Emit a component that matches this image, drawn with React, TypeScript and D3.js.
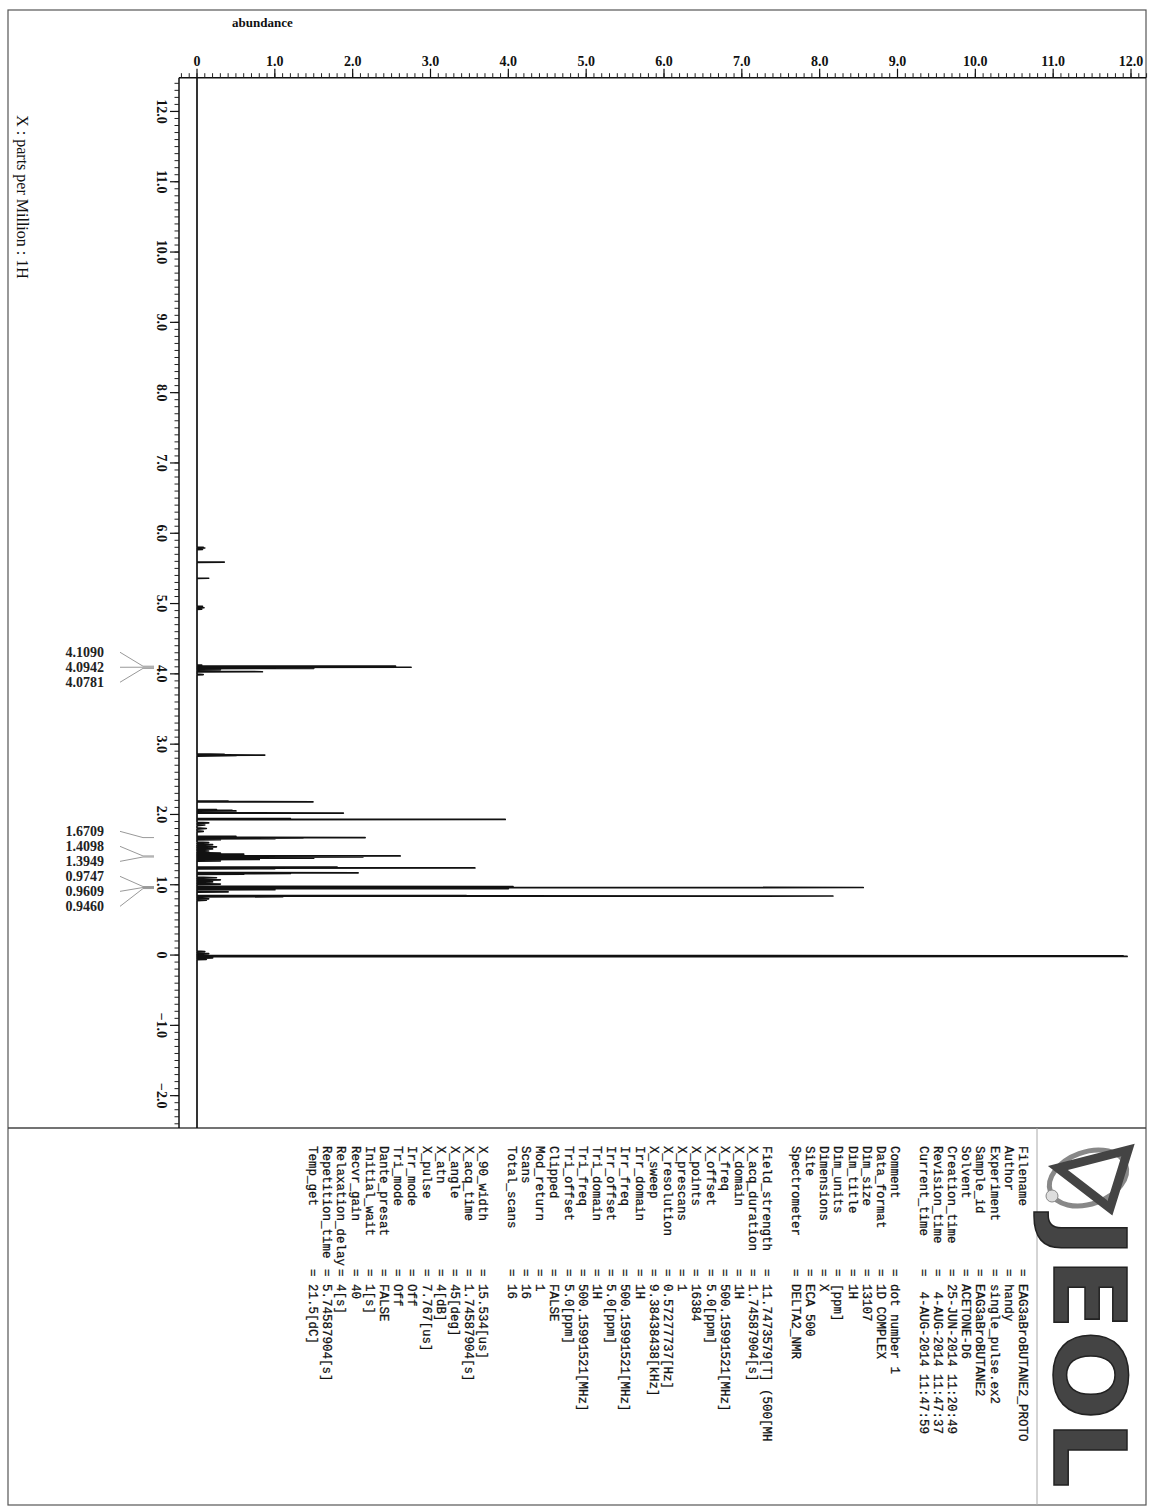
import React from 'react';
import * as d3 from 'd3';

// ---- axis ticks ----
const abundanceTicks = [0, 1, 2, 3, 4, 5, 6, 7, 8, 9, 10, 11, 12];
const abundanceTickLabels = ['0', '1.0', '2.0', '3.0', '4.0', '5.0', '6.0', '7.0', '8.0', '9.0', '10.0', '11.0', '12.0'];
const ppmTicks = [12, 11, 10, 9, 8, 7, 6, 5, 4, 3, 2, 1, 0, -1, -2];
const ppmTickLabels = ['12.0', '11.0', '10.0', '9.0', '8.0', '7.0', '6.0', '5.0', '4.0', '3.0', '2.0', '1.0', '0', '\u22121.0', '\u22122.0'];

// ---- spectrum peaks (ppm, abundance, half width ppm) ----
const peakPpm = [
  5.80, 5.79, 5.77, 5.59, 5.36, 4.96, 4.94, 4.92,
  4.125, 4.109, 4.094, 4.078, 4.06, 4.05, 4.03, 3.99,
  2.855, 2.845, 2.835,
  2.19, 2.18, 2.07, 2.06, 2.05, 2.04, 2.02, 1.94, 1.93,
  1.88, 1.85, 1.80, 1.76,
  1.69, 1.6709, 1.665, 1.655, 1.64,
  1.60, 1.57, 1.54, 1.51, 1.48, 1.45,
  1.435, 1.4098, 1.3949, 1.38, 1.36, 1.34,
  1.25, 1.24, 1.23, 1.17, 1.16, 1.15,
  1.10, 1.07, 1.04, 1.01,
  0.9747, 0.9609, 0.946, 0.93, 0.90,
  0.845, 0.84, 0.83, 0.80, 0.78,
  0.05, 0.02, -0.01, -0.02, -0.04, -0.06,
];
const peakHeight = [
  0.08, 0.10, 0.07, 0.35, 0.15, 0.07, 0.09, 0.06,
  0.06, 2.55, 2.75, 1.5, 0.3, 0.1, 0.84, 0.08,
  0.35, 0.87, 0.5,
  0.4, 1.49, 0.25, 0.45, 0.5, 0.3, 1.88, 1.2, 3.96,
  0.15, 0.1, 0.12, 0.08,
  0.5, 2.16, 1.36, 1.0, 0.3,
  0.15, 0.2, 0.25, 0.2, 0.15, 0.3,
  0.6, 2.61, 2.13, 1.5, 0.8, 0.3,
  1.8, 3.57, 1.0, 2.07, 1.2, 0.6,
  0.25, 0.3, 0.2, 0.3,
  4.06, 8.56, 4.0, 1.0, 0.4,
  3.46, 8.17, 1.1, 0.15, 0.12,
  0.1, 0.15, 11.9, 11.95, 0.2, 0.12,
];
const peakWidth = [
  0.004, 0.004, 0.004, 0.003, 0.003, 0.004, 0.004, 0.004,
  0.004, 0.003, 0.003, 0.003, 0.004, 0.006, 0.003, 0.006,
  0.006, 0.006, 0.006,
  0.003, 0.003, 0.003, 0.003, 0.003, 0.003, 0.003, 0.003, 0.003,
  0.008, 0.008, 0.008, 0.008,
  0.003, 0.003, 0.003, 0.003, 0.003,
  0.008, 0.008, 0.008, 0.008, 0.008, 0.006,
  0.003, 0.003, 0.003, 0.003, 0.003, 0.003,
  0.003, 0.003, 0.003, 0.003, 0.003, 0.003,
  0.008, 0.008, 0.008, 0.006,
  0.003, 0.003, 0.003, 0.003, 0.004,
  0.003, 0.003, 0.003, 0.006, 0.006,
  0.006, 0.006, 0.003, 0.003, 0.006, 0.006,
];

// ---- peak annotations ----
const labelGroupA = [4.109, 4.0942, 4.0781];
const labelGroupB = [1.6709, 1.4098, 1.3949, 0.9747, 0.9609, 0.946];

// ---- parameter block ----
const paramLabels = [
  'Filename', 'Author', 'Experiment', 'Sample_id', 'Solvent', 'Creation_time', 'Revision_time', 'Current_time', '',
  'Comment', 'Data_format', 'Dim_size', 'Dim_title', 'Dim_units', 'Dimensions', 'Site', 'Spectrometer', '',
  'Field_strength', 'X_acq_duration', 'X_domain', 'X_freq', 'X_offset', 'X_points', 'X_prescans', 'X_resolution', 'X_sweep',
  'Irr_domain', 'Irr_freq', 'Irr_offset', 'Tri_domain', 'Tri_freq', 'Tri_offset', 'Clipped', 'Mod_return', 'Scans', 'Total_scans', '',
  'X_90_width', 'X_acq_time', 'X_angle', 'X_atn', 'X_pulse', 'Irr_mode', 'Tri_mode', 'Dante_presat', 'Initial_wait', 'Recvr_gain',
  'Relaxation_delay', 'Repetition_time', 'Temp_get',
];
const paramValues = [
  'EAG3aBroBUTANE2_PROTO', 'handy', 'single_pulse.ex2', 'EAG3aBroBUTANE2', 'ACETONE-D6', '25-JUN-2014 11:20:49', ' 4-AUG-2014 11:47:37', ' 4-AUG-2014 11:47:59', '',
  'dot number 1', '1D COMPLEX', '13107', '1H', '[ppm]', 'X', 'ECA 500', 'DELTA2_NMR', '',
  '11.7473579[T] (500[MH', '1.74587904[s]', '1H', '500.15991521[MHz]', '5.0[ppm]', '16384', '1', '0.57277737[Hz]', '9.38438438[kHz]',
  '1H', '500.15991521[MHz]', '5.0[ppm]', '1H', '500.15991521[MHz]', '5.0[ppm]', 'FALSE', '1', '16', '16', '',
  '15.534[us]', '1.74587904[s]', '45[deg]', '4[dB]', '7.767[us]', 'Off', 'Off', 'FALSE', '1[s]', '40',
  '4[s]', '5.74587904[s]', '21.5[dC]',
];

const W = 1151;
const H = 1511;
const frame = { left: 179, top: 77.7, right: 1146, bottom: 1128 };

export default function App() {
  const x = d3.scaleLinear().domain([0, 12]).range([197, 1131]);
  const y = d3.scaleLinear().domain([12.48, -2.46]).range([frame.top, frame.bottom]);

  const idx = d3.range(peakPpm.length).sort((a, b) => peakPpm[b] - peakPpm[a]);
  const pts: [number, number][] = [[12.48, 0]];
  idx.forEach((i) => {
    const p = peakPpm[i];
    const w = peakWidth[i];
    pts.push([p + w, 0], [p, peakHeight[i]], [p - w, 0]);
  });
  pts.push([-2.46, 0]);
  const line = d3.line<[number, number]>().x((d) => x(d[1])).y((d) => y(d[0]));

  const topMinor = d3.range(-2, 123).map((k) => k / 10);
  const leftMinor = d3.range(-24, 125).map((k) => k / 10);

  const serif = "'Liberation Serif', 'Times New Roman', serif";
  const mono = "'Liberation Mono', 'Courier New', monospace";

  const renderGroup = (ppms: number[]) => {
    const ys = ppms.map((p) => y(p));
    const mean = d3.mean(ys) as number;
    const n = ppms.length;
    return ppms.map((p, i) => {
      const ly = mean + (i - (n - 1) / 2) * 15;
      return (
        <g key={p}>
          <text x={104} y={ly} textAnchor="end" dominantBaseline="central" fontFamily={serif} fontWeight="bold" fontSize={14} fill="#222">
            {p.toFixed(4)}
          </text>
          <line x1={120} y1={ly} x2={143} y2={y(p)} stroke="#999" strokeWidth={1} />
          <line x1={143} y1={y(p)} x2={154} y2={y(p)} stroke="#999" strokeWidth={1} />
        </g>
      );
    });
  };

  const lineStep = 14.2;
  const firstLineX = 1022;
  const labelY = 1146;
  const eqY = 1269;

  return (
    <div style={{ position: 'absolute', left: 0, top: 0 }}>
      <svg width={W} height={H} style={{ display: 'block', background: '#fff' }}>
        {/* page border */}
        <rect x={8} y={10} width={1138} height={1495} fill="none" stroke="#555" strokeWidth={1.2} />
        <line x1={8} y1={frame.bottom} x2={1146} y2={frame.bottom} stroke="#444" strokeWidth={1.5} />
        <line x1={1037} y1={frame.bottom} x2={1037} y2={1505} stroke="#aaa" strokeWidth={1} />

        {/* abundance title */}
        <text x={232} y={27} fontFamily={serif} fontWeight="bold" fontSize={13} fill="#111">abundance</text>

        {/* top axis */}
        <line x1={frame.left} y1={frame.top} x2={frame.right} y2={frame.top} stroke="#111" strokeWidth={1.5} />
        {topMinor.map((v) => (
          <line key={'tm' + v} x1={x(v)} x2={x(v)} y1={frame.top} y2={frame.top - 4.5} stroke="#222" strokeWidth={1} />
        ))}
        {abundanceTicks.map((v, i) => (
          <g key={'ta' + v}>
            <line x1={x(v)} x2={x(v)} y1={frame.top} y2={frame.top - 9} stroke="#111" strokeWidth={1.2} />
            <text x={x(v)} y={66} textAnchor="middle" fontFamily={serif} fontWeight="bold" fontSize={14} fill="#111">
              {abundanceTickLabels[i]}
            </text>
          </g>
        ))}

        {/* left axis */}
        <line x1={frame.left} y1={frame.top} x2={frame.left} y2={frame.bottom} stroke="#111" strokeWidth={1.5} />
        {leftMinor.map((v) => (
          <line key={'lm' + v} x1={frame.left} x2={frame.left - 4.5} y1={y(v)} y2={y(v)} stroke="#222" strokeWidth={1} />
        ))}
        {ppmTicks.map((v, i) => (
          <g key={'la' + v}>
            <line x1={frame.left} x2={frame.left - 9} y1={y(v)} y2={y(v)} stroke="#111" strokeWidth={1.2} />
            <text
              transform={`translate(161, ${y(v)}) rotate(90)`}
              textAnchor="middle"
              dominantBaseline="central"
              fontFamily={serif}
              fontWeight="bold"
              fontSize={14}
              fill="#111"
            >
              {ppmTickLabels[i]}
            </text>
          </g>
        ))}
        <text transform="translate(22, 197) rotate(90)" textAnchor="middle" dominantBaseline="central" fontFamily={serif} fontSize={16} fill="#111">
          X : parts per Million : 1H
        </text>

        {/* spectrum */}
        <path d={line(pts) as string} fill="none" stroke="#111" strokeWidth={1.7} strokeLinejoin="round" />

        {/* peak labels */}
        {renderGroup(labelGroupA)}
        {renderGroup(labelGroupB)}

        {/* JEOL logo */}
        <g>
          <ellipse cx={1088} cy={1178} rx={40} ry={26} fill="none" stroke="#888" strokeWidth={5} transform="rotate(-20 1088 1178)" />
          <polygon points="1128,1150 1058,1168 1110,1208" fill="none" stroke="#444" strokeWidth={9} strokeLinejoin="miter" />
          <circle cx={1052} cy={1196} r={6} fill="#ddd" stroke="#888" strokeWidth={1} />
          <text
            transform="translate(1088, 1218) rotate(90)"
            textAnchor="start"
            dominantBaseline="central"
            fontFamily="'DejaVu Sans', Arial, sans-serif"
            fontWeight="bold"
            fontSize={100}
            textLength={270}
            lengthAdjust="spacingAndGlyphs"
            fill="#444"
            stroke="#222"
            strokeWidth={1.5}
          >
            JEOL
          </text>
        </g>

        {/* parameters */}
        {paramLabels.map((lab, i) =>
          lab === '' ? null : (
            <g key={'p' + i} transform={`translate(${firstLineX - i * lineStep}, 0)`}>
              <text transform={`translate(0, ${labelY}) rotate(90)`} dominantBaseline="central" fontFamily={mono} fontSize={12.5} fill="#111" stroke="#111" strokeWidth={0.25}>
                {lab}
              </text>
              <text
                transform={`translate(0, ${eqY}) rotate(90)`}
                dominantBaseline="central"
                fontFamily={mono}
                fontSize={12.5}
                fill="#111"
                stroke="#111"
                strokeWidth={0.25}
                style={{ whiteSpace: 'pre' }}
              >
                {'= ' + paramValues[i]}
              </text>
            </g>
          )
        )}
      </svg>
    </div>
  );
}
